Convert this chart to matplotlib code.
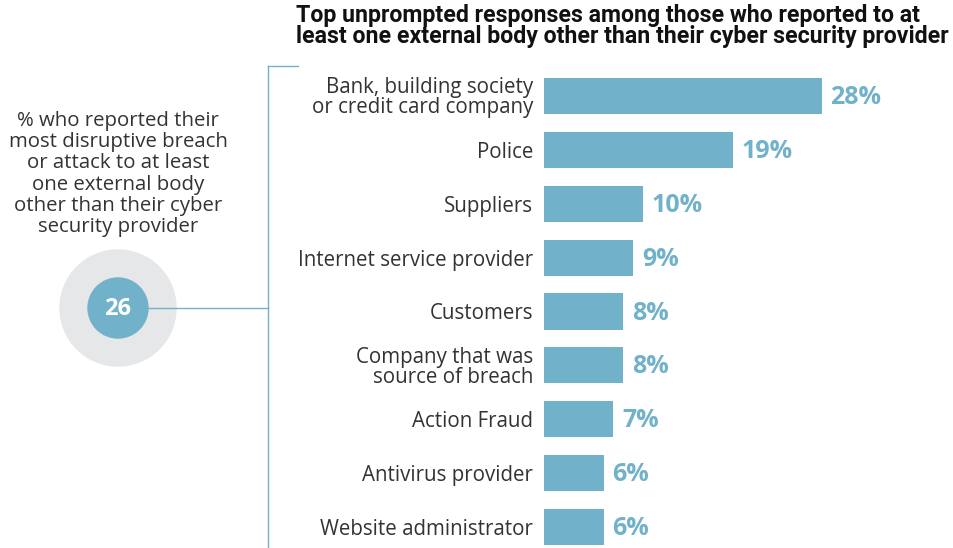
import matplotlib
matplotlib.use("Agg")
from matplotlib import pyplot as plt
from matplotlib.patches import Circle

# Dados do gráfico
categorias = ["Bank, building society\nor credit card company", "Police", "Suppliers",
              "Internet service provider", "Customers", "Company that was\nsource of breach",
              "Action Fraud", "Antivirus provider", "Website administrator"]
valores = [28, 19, 10, 9, 8, 8, 7, 6, 6]
total_reportado = 26

cor_barra = "#71b2ca"
cor_texto = "#333333"
fonte = "Open Sans"

fig = plt.figure(figsize=(9.54, 5.48), dpi=100)

# Eixo das barras
ax = fig.add_axes([544 / 954, 0, 397 / 954, 479 / 548])
posicoes = list(range(len(categorias)))
ax.barh(posicoes, valores, height=0.67, color=cor_barra)
ax.set_xlim(0, 40)
ax.set_ylim(8.39, -0.5)
ax.set_yticks(posicoes)
ax.set_yticklabels(categorias, fontsize=14.8, color=cor_texto, family=fonte, linespacing=0.93)
ax.tick_params(axis="y", length=0, pad=8)
ax.set_xticks([])
for lado in ax.spines.values():
    lado.set_visible(False)

# Rótulos de valor ao lado das barras
for pos, v in zip(posicoes, valores):
    ax.text(v + 0.85, pos + 0.03, f"{v}%", va="center", ha="left", fontsize=18,
            fontweight="bold", color=cor_barra, family=fonte)

# Camada de decoração em pixels
deco = fig.add_axes([0, 0, 1, 1], zorder=-1)
deco.set_xlim(0, 954)
deco.set_ylim(548, 0)
deco.axis("off")

deco.text(296, 26, "Top unprompted responses among those who reported to at\n"
          "least one external body other than their cyber security provider",
          ha="left", va="center", fontsize=16.7, fontweight="bold", color="#111111",
          family="Roboto", linespacing=0.88)

deco.text(118, 174, "% who reported their\nmost disruptive breach\nor attack to at least\n"
          "one external body\nother than their cyber\nsecurity provider",
          ha="center", va="center", fontsize=14.7, color=cor_texto, family=fonte,
          linespacing=1.07)

deco.add_patch(Circle((118, 308), 58, color="#e6e7e8"))
deco.add_patch(Circle((118, 308), 30, color=cor_barra))
deco.text(118, 309, str(total_reportado), ha="center", va="center", fontsize=17,
          fontweight="bold", color="white", family=fonte)

deco.plot([148, 268], [308, 308], color=cor_barra, lw=1)
deco.plot([268, 268], [66, 548], color=cor_barra, lw=1)
deco.plot([268, 298], [66, 66], color=cor_barra, lw=1)

fig.savefig("out.png", dpi=100)
